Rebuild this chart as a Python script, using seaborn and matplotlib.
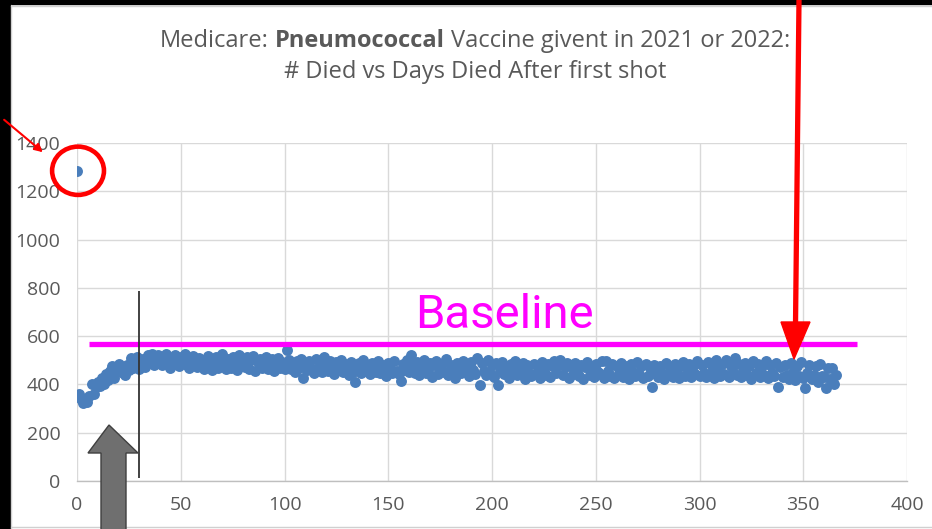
import numpy as np
import pandas as pd
import matplotlib
matplotlib.use("Agg")
import matplotlib.pyplot as plt
from matplotlib import font_manager
from matplotlib.patches import Ellipse, Polygon, Rectangle, FancyArrowPatch
from matplotlib.lines import Line2D
import seaborn as sns

# ---------------- data ----------------
title_line1_parts = ["Medicare:", "Pneumococcal", "Vaccine givent in 2021 or 2022:"]
title_line2 = "# Died vs Days Died After first shot"
x_ticks = [0, 50, 100, 150, 200, 250, 300, 350, 400]
y_ticks = [0, 200, 400, 600, 800, 1000, 1200, 1400]
baseline_value = 567
baseline_label = "Baseline"
marker_day = 30

deaths = [
    1285,
    360, 340, 325, 338, 328, 352, 400, 362, 388, 412, 392, 428, 402, 445, 418, 456, 475, 428, 465, 485,
    450, 468, 440, 480, 458, 508, 468, 488, 515, 465, 495, 505, 472, 520, 490, 526, 482, 510, 522, 492,
    480, 515, 526, 494, 468, 508, 520, 486, 476, 512, 490, 525, 480, 466, 505, 518, 488, 472, 510, 482,
    462, 503, 518, 476, 458, 500, 512, 470, 494, 524, 480, 462, 506, 468, 514, 486, 460, 520, 478, 502,
    472, 512, 464, 500, 516, 454, 492, 506, 466, 498, 514, 462, 488, 504, 456, 494, 510, 470, 492, 464,
    543, 500, 462, 488, 450, 496, 468, 506, 427, 490, 458, 498, 470, 446, 504, 462, 490, 452, 512, 468,
    456, 496, 464, 444, 492, 458, 502, 450, 484, 462, 440, 494, 452, 411, 482, 488, 448, 500, 456, 478,
    445, 490, 460, 450, 498, 446, 482, 458, 434, 488, 464, 448, 496, 455, 442, 414, 486, 460, 500, 452,
    522, 482, 448, 494, 438, 478, 500, 446, 456, 488, 432, 480, 496, 442, 476, 486, 450, 504, 438, 482,
    454, 428, 490, 460, 446, 498, 450, 484, 436, 494, 460, 442, 510, 398, 488, 454, 440, 500, 448, 480,
    432, 488, 398, 454, 494, 442, 478, 428, 484, 450, 498, 438, 476, 446, 490, 422, 480, 448, 436, 486,
    442, 478, 428, 494, 450, 438, 484, 432, 476, 498, 446, 480, 501, 438, 472, 488, 426, 478, 442, 490,
    448, 434, 480, 424, 472, 494, 438, 478, 432, 486, 450, 442, 497, 426, 497, 454, 436, 484, 428, 476,
    446, 488, 432, 478, 440, 424, 484, 450, 434, 494, 442, 476, 426, 486, 436, 470, 389, 480, 442, 430,
    478, 448, 424, 490, 438, 472, 430, 484, 446, 426, 478, 494, 436, 468, 486, 430, 476, 442, 498, 434,
    480, 448, 430, 494, 442, 478, 426, 500, 454, 436, 486, 444, 502, 430, 478, 450, 510, 440, 484, 432,
    452, 488, 438, 478, 424, 496, 446, 484, 430, 476, 440, 498, 426, 480, 446, 434, 490, 389, 472, 432,
    480, 440, 422, 488, 450, 418, 476, 434, 492, 428, 385, 448, 482, 424, 440, 476, 412, 484, 436, 430,
    385, 470, 424, 466, 400, 440,
]
days = list(range(len(deaths)))

df = pd.DataFrame({"days": days, "deaths": deaths})

# ---------------- fonts ----------------
available = {f.name for f in font_manager.fontManager.ttflist}
main_font = "Liberation Sans Narrow" if "Liberation Sans Narrow" in available else "Open Sans"

sns.set_theme(style="white")
plt.rcParams["font.family"] = [main_font, "DejaVu Sans"]

W, H = 932, 529
fig = plt.figure(figsize=(W / 100, H / 100), dpi=100)
fig.patch.set_facecolor("white")


def px(x, y):
    return (x / W, 1 - y / H)


ax = fig.add_axes([77 / W, 1 - 481 / H, (907 - 77) / W, (481 - 143) / H])
ax.set_facecolor("white")

sns.scatterplot(data=df, x="days", y="deaths", ax=ax, s=62, color="#4a7ebb",
                edgecolor=None, linewidth=0, zorder=3, legend=False)

ax.set_xlim(0, 400)
ax.set_ylim(0, 1400)
ax.set_xticks(x_ticks)
ax.set_yticks(y_ticks)
ax.set_xticklabels([str(t) for t in x_ticks])
ax.set_yticklabels([str(t) for t in y_ticks])
ax.set_xlabel("")
ax.set_ylabel("")
ax.grid(True, color="#d9d9d9", linewidth=1.0)
ax.set_axisbelow(True)
for s in ["top", "right", "left"]:
    ax.spines[s].set_visible(False)
ax.spines["bottom"].set_color("#bfbfbf")
ax.spines["bottom"].set_linewidth(1.0)
ax.tick_params(axis="both", length=0, labelsize=14, labelcolor="#595959")
ax.tick_params(axis="y", pad=12)
ax.tick_params(axis="x", pad=11)

# baseline line and label
ax.hlines(baseline_value, 6, 376, color="#ff00ff", linewidth=3.8, zorder=4, clip_on=False)
ax.text(163, 634, baseline_label, color="#ff00ff", fontsize=34, family=["Roboto", "DejaVu Sans"],
        ha="left", va="baseline", zorder=5)

# thin black vertical line at day 30
ax.vlines(marker_day, 12, 787, color="#333333", linewidth=1.3, zorder=4)

# red circle around the first point
ax.add_patch(Ellipse((0.5, 1285), width=25, height=200, fill=False, edgecolor="#ff0000",
                     linewidth=3.3, clip_on=False, zorder=6))

# ---------------- figure-level decorations ----------------
fig.add_artist(Rectangle((0, 0), 10 / W, 1, transform=fig.transFigure, color="black", zorder=0))
fig.add_artist(Rectangle(px(0, 4), 1, 4 / H, transform=fig.transFigure, color="black", zorder=0))
fig.add_artist(Line2D([11 / W, 11 / W], [0, 1 - 5 / H], transform=fig.transFigure, color="#d0d0d0", lw=1))
fig.add_artist(Line2D([11 / W, 1], [1 - 5.5 / H] * 2, transform=fig.transFigure, color="#d0d0d0", lw=1))
fig.add_artist(Line2D([11 / W, 1], [1 - 527 / H] * 2, transform=fig.transFigure, color="#d0d0d0", lw=1))

# thin red arrow to circled point
fig.add_artist(FancyArrowPatch(px(2, 118), px(45, 154), transform=fig.transFigure,
                               arrowstyle="-|>", mutation_scale=12, color="#ff0000",
                               linewidth=1.5, zorder=7))

# big red arrow from top
fig.add_artist(Line2D([799 / W, 795.5 / W], [1 - 0 / H, 1 - 325 / H], transform=fig.transFigure,
                      color="#ff0000", lw=3.8, zorder=7, solid_capstyle="butt"))
fig.add_artist(Polygon([px(781, 322), px(810, 322), px(794, 359)], closed=True,
                       transform=fig.transFigure, facecolor="#ff0000", edgecolor="#ff0000", zorder=7))

# gray block arrow
fig.add_artist(Polygon([px(109, 425), px(138, 453), px(126, 453), px(126, 530), px(101, 530),
                        px(101, 453), px(88, 453)], closed=True, transform=fig.transFigure,
                       facecolor="#6f6f6f", edgecolor="#3f3f3f", linewidth=1.0, zorder=8))

# ---------------- title with bold word ----------------
renderer = fig.canvas.get_renderer()
title_kw = dict(fontsize=17, color="#595959")


def text_width(s, **kw):
    t = fig.text(0, 0, s, **kw)
    w = t.get_window_extent(renderer).width
    t.remove()
    return w


space_w = text_width("a a", **title_kw) - text_width("aa", **title_kw)
weights = ["normal", "bold", "normal"]
widths = [text_width(p, fontweight=wt, **title_kw) for p, wt in zip(title_line1_parts, weights)]
total = sum(widths) + space_w * (len(widths) - 1)
cx = 475
x0 = cx - total / 2
for p, wt, wd in zip(title_line1_parts, weights, widths):
    fig.text(x0 / W, 1 - 41 / H, p, fontweight=wt, ha="left", va="center", **title_kw)
    x0 += wd + space_w
fig.text(cx / W, 1 - 72 / H, title_line2, ha="center", va="center", **title_kw)

fig.savefig("out.png", dpi=100)
